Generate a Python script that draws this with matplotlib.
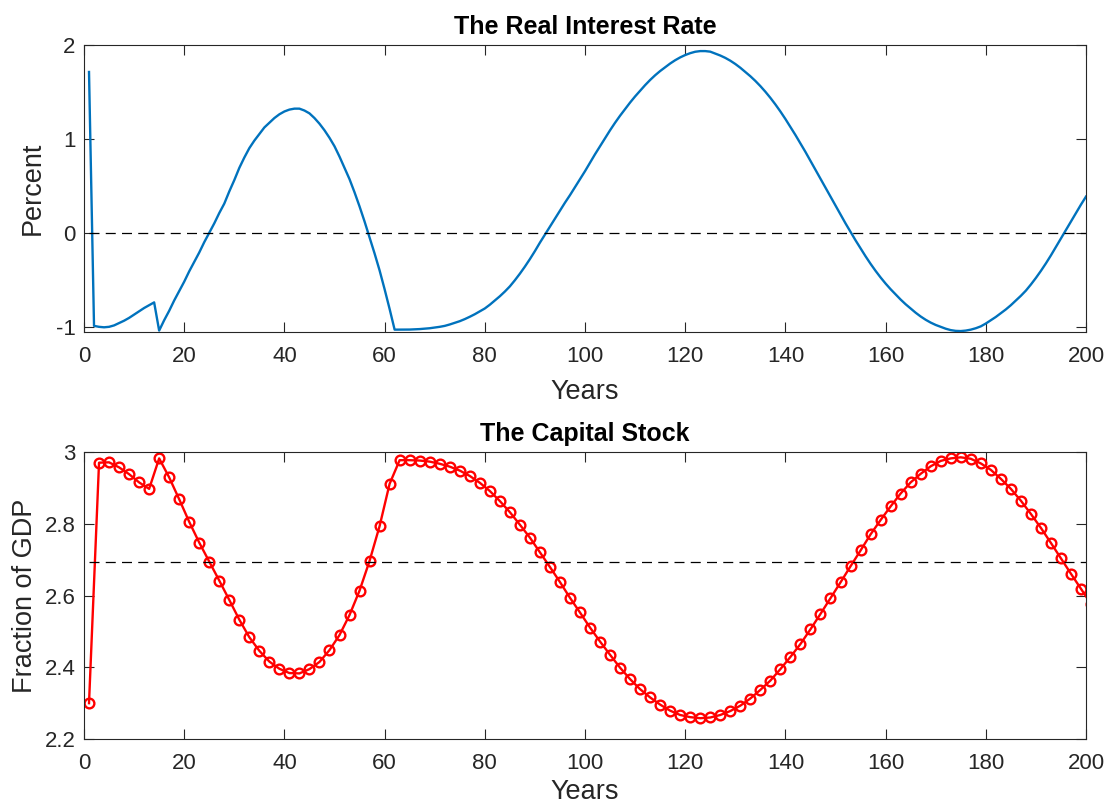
import matplotlib
matplotlib.use("Agg")
import matplotlib.pyplot as plt

plt.rcParams['font.family'] = ['Liberation Sans', 'DejaVu Sans']
plt.rcParams['axes.unicode_minus'] = False

# ---- data: real interest rate (percent), years 1..200 ----
rate_years = list(range(1, 201))
rate_values = [
    1.71, -0.99, -1.0, -1.005, -1.0, -0.985, -0.96, -0.935, -0.905, -0.87,
    -0.835, -0.80, -0.77, -0.74, -1.04, -0.93, -0.83, -0.72, -0.62, -0.52,
    -0.41, -0.31, -0.21, -0.10, 0.0, 0.10, 0.21, 0.31, 0.44, 0.56,
    0.69, 0.80, 0.90, 0.98, 1.05, 1.12, 1.17, 1.22, 1.26, 1.29,
    1.31, 1.32, 1.32, 1.30, 1.27, 1.22, 1.16, 1.09, 1.01, 0.92,
    0.81, 0.69, 0.57, 0.43, 0.28, 0.12, -0.05, -0.22, -0.40, -0.60,
    -0.81, -1.03, -1.03, -1.03, -1.029, -1.027, -1.024, -1.02, -1.015, -1.008,
    -1.0, -0.99, -0.975, -0.958, -0.94, -0.918, -0.893, -0.866, -0.836, -0.805,
    -0.765, -0.72, -0.675, -0.625, -0.57, -0.505, -0.435, -0.36, -0.28, -0.195,
    -0.105, -0.02, 0.065, 0.15, 0.235, 0.32, 0.40, 0.485, 0.57, 0.655,
    0.745, 0.835, 0.92, 1.005, 1.09, 1.17, 1.245, 1.315, 1.385, 1.45,
    1.51, 1.57, 1.625, 1.675, 1.72, 1.76, 1.80, 1.835, 1.865, 1.89,
    1.91, 1.925, 1.932, 1.932, 1.926, 1.905, 1.885, 1.86, 1.83, 1.795,
    1.755, 1.71, 1.665, 1.615, 1.56, 1.50, 1.435, 1.365, 1.29, 1.21,
    1.125, 1.04, 0.95, 0.86, 0.765, 0.67, 0.575, 0.48, 0.385, 0.29,
    0.195, 0.10, 0.01, -0.08, -0.165, -0.25, -0.33, -0.405, -0.475, -0.54,
    -0.60, -0.655, -0.71, -0.76, -0.805, -0.85, -0.89, -0.925, -0.955, -0.98,
    -1.0, -1.02, -1.035, -1.043, -1.045, -1.04, -1.03, -1.015, -0.995, -0.965,
    -0.93, -0.895, -0.855, -0.815, -0.77, -0.72, -0.67, -0.615, -0.55, -0.48,
    -0.405, -0.325, -0.24, -0.15, -0.06, 0.03, 0.12, 0.21, 0.30, 0.385,
]
rate_ss_x = [1, 200]
rate_ss_y = [0.0, 0.0]

# ---- data: capital stock (fraction of GDP), odd years ----
cap_years = list(range(1, 203, 2))
cap_values = [
    2.300, 2.971, 2.972, 2.958, 2.939, 2.916, 2.898, 2.983, 2.930, 2.869,
    2.806, 2.748, 2.695, 2.642, 2.588, 2.533, 2.484, 2.446, 2.416, 2.396,
    2.384, 2.383, 2.395, 2.415, 2.448, 2.490, 2.546, 2.614, 2.697, 2.794,
    2.912, 2.978, 2.978, 2.977, 2.974, 2.968, 2.960, 2.949, 2.934, 2.915,
    2.892, 2.864, 2.833, 2.798, 2.762, 2.721, 2.680, 2.638, 2.594, 2.553,
    2.511, 2.472, 2.435, 2.399, 2.367, 2.339, 2.316, 2.296, 2.279, 2.267,
    2.261, 2.258, 2.260, 2.267, 2.278, 2.293, 2.313, 2.337, 2.363, 2.395,
    2.429, 2.465, 2.506, 2.549, 2.593, 2.637, 2.682, 2.726, 2.771, 2.811,
    2.849, 2.885, 2.916, 2.940, 2.961, 2.976, 2.983, 2.986, 2.982, 2.969,
    2.951, 2.926, 2.898, 2.865, 2.828, 2.789, 2.747, 2.704, 2.661, 2.619,
    2.577,
]
cap_ss_x = [1, 200]
cap_ss_y = [2.693, 2.693]

x_ticks = [0, 20, 40, 60, 80, 100, 120, 140, 160, 180, 200]
rate_yticks = [-1, 0, 1, 2]
rate_yticklabels = ['-1', '0', '1', '2']
cap_yticks = [2.2, 2.4, 2.6, 2.8, 3.0]
cap_yticklabels = ['2.2', '2.4', '2.6', '2.8', '3']

W, H = 1109, 807
fig = plt.figure(figsize=(W / 100, H / 100), dpi=100)
ax1 = fig.add_axes([84 / W, 1 - 332 / H, 1002 / W, (332 - 44.7) / H])
ax2 = fig.add_axes([84 / W, 1 - 739 / H, 1002 / W, (739 - 452.3) / H])

axcol = '#262626'
tick_fs = 16
label_fs = 19.5
title_fs = 18

def style(ax):
    for s in ax.spines.values():
        s.set_color(axcol)
        s.set_linewidth(0.8)
    ax.tick_params(direction='in', length=7, width=0.8, color=axcol,
                   labelcolor=axcol, labelsize=tick_fs, top=True, right=True)
    ax.tick_params(axis='x', pad=10)
    ax.tick_params(axis='y', pad=6)
    ax.set_xlim(0, 200)
    ax.set_xticks(x_ticks)
    ax.set_xticklabels([str(t) for t in x_ticks])

ax1.plot(rate_years, rate_values, color='#0072BD', lw=1.7)
ax1.plot(rate_ss_x, rate_ss_y, color='black', lw=0.9, dashes=(8, 5))
style(ax1)
ax1.set_ylim(-1.055, 2)
ax1.set_yticks(rate_yticks)
ax1.set_yticklabels(rate_yticklabels)
ax1.set_title('The Real Interest Rate', fontsize=title_fs, fontweight='bold',
              color='black', pad=8)
ax1.set_xlabel('Years', fontsize=label_fs, color=axcol, labelpad=9)
ax1.set_ylabel('Percent', fontsize=label_fs, color=axcol, labelpad=7)

ax2.plot(cap_years, cap_values, color='#FF0000', lw=1.7, marker='o',
         markersize=7, markerfacecolor='none', markeredgewidth=1.7,
         markeredgecolor='#FF0000')
ax2.plot(cap_ss_x, cap_ss_y, color='black', lw=0.9, dashes=(8, 5))
style(ax2)
ax2.set_ylim(2.2, 3.0)
ax2.set_yticks(cap_yticks)
ax2.set_yticklabels(cap_yticklabels)
ax2.set_title('The Capital Stock', fontsize=title_fs, fontweight='bold',
              color='black', pad=8)
ax2.set_xlabel('Years', fontsize=label_fs, color=axcol, labelpad=4)
ax2.set_ylabel('Fraction of GDP', fontsize=label_fs, color=axcol, labelpad=5)

fig.savefig('out.png', dpi=100)
